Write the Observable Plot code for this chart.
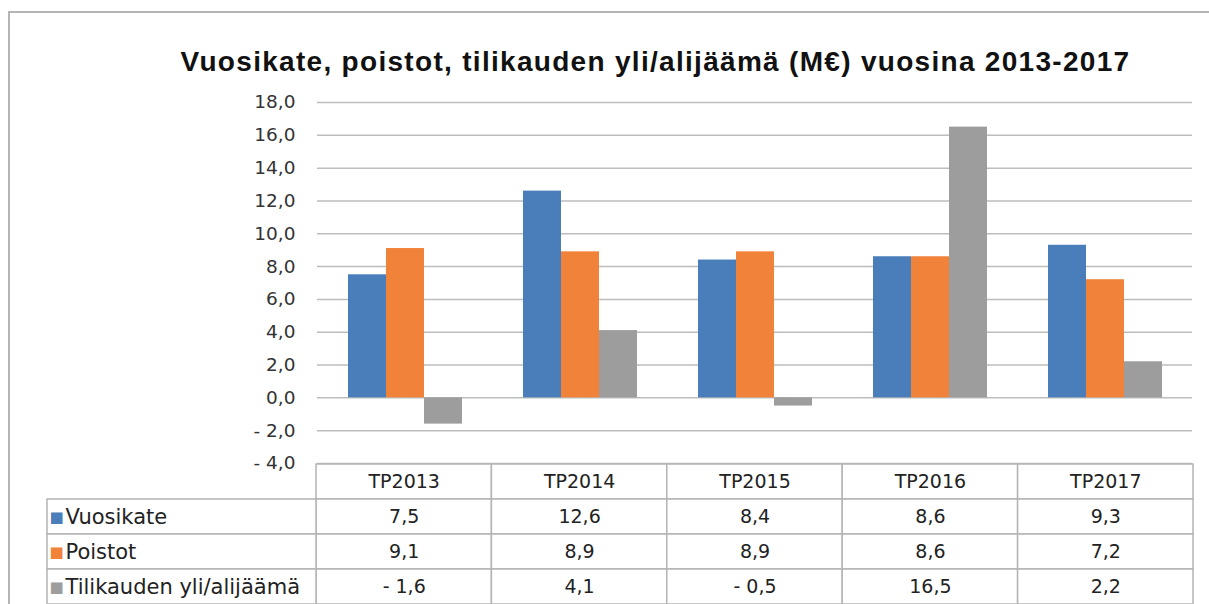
<!DOCTYPE html>
<html>
<head>
<meta charset="utf-8">
<script src="https://cdn.jsdelivr.net/npm/d3@7"></script>
<script src="https://cdn.jsdelivr.net/npm/@observablehq/plot@0.6"></script>
<style>
  html, body { margin: 0; padding: 0; background: #fff; }
  #wrap { position: relative; width: 1209px; height: 604px; overflow: hidden; background: #fff; }
  #border { position: absolute; left: 8px; top: 11px; width: 1300px; height: 700px; border: 2px solid #b4b4b4; box-sizing: border-box; }
  #title { position: absolute; left: 0; top: 46px; width: 1311px; text-align: center; font-family: "Liberation Sans", Arial, sans-serif; font-weight: bold; font-size: 28px; letter-spacing: 1.3px; color: #111; }
  #chart { position: absolute; left: 0; top: 90px; }
  #table { position: absolute; left: 0; top: 463px; }
  svg { overflow: visible; }
</style>
</head>
<body>
<div id="wrap">
  <div id="border"></div>
  <div id="title">Vuosikate, poistot, tilikauden yli/alijäämä (M€) vuosina 2013-2017</div>
  <div id="chart"></div>
  <div id="table"></div>
</div>
<script>
const categories = ["TP2013", "TP2014", "TP2015", "TP2016", "TP2017"];
const seriesNames = ["Vuosikate", "Poistot", "Tilikauden yli/alijäämä"];
const vuosikate = [7.5, 12.6, 8.4, 8.6, 9.3];
const poistot = [9.1, 8.9, 8.9, 8.6, 7.2];
const tilikauden = [-1.6, 4.1, -0.5, 16.5, 2.2];
const yTicks = [-4, -2, 0, 2, 4, 6, 8, 10, 12, 14, 16, 18];
const colors = ["#4a7ebb", "#f0823a", "#9d9d9d"];

const seriesValues = [vuosikate, poistot, tilikauden];
const data = [];
categories.forEach((c, i) => {
  seriesNames.forEach((s, j) => data.push({category: c, series: s, value: seriesValues[j][i]}));
});

const fmt = v => {
  const s = Math.abs(v).toFixed(1).replace(".", ",");
  return v < 0 ? "- " + s : s;
};

const FONT = "'DejaVu Sans', Verdana, sans-serif";
const W = 1209, ML = 316, MR = 16;

const chart = Plot.plot({
  width: W,
  height: 373,
  marginLeft: ML,
  marginRight: MR,
  marginTop: 12,
  marginBottom: 0,
  style: {fontFamily: FONT, fontSize: "18px", color: "#333", background: "transparent"},
  fx: {domain: categories, padding: 0, axis: null},
  x: {domain: seriesNames, paddingInner: 0, paddingOuter: 0.75, axis: null},
  y: {domain: [-4, 18], ticks: yTicks, tickFormat: fmt, label: null},
  color: {domain: seriesNames, range: colors},
  marks: [
    Plot.ruleY(yTicks, {stroke: "#bdbdbd", strokeWidth: 1.5}),
    Plot.axisY({ticks: yTicks, tickFormat: fmt, tickSize: 0, tickPadding: 22, label: null, fontSize: 18.5, fill: "#333"}),
    Plot.barY(data, {fx: "category", x: "series", y: "value", fill: "series", inset: 0}),
    Plot.ruleX([0], {frameAnchor: "left", stroke: "#bdbdbd", strokeWidth: 1.5})
  ]
});
document.getElementById("chart").appendChild(chart);

// Data table below the chart, sharing the chart's horizontal layout
const rowKeys = ["head", ...seriesNames];
const labelColUnits = (ML - 47) / ((W - ML - MR) / categories.length);
const cells = [];
categories.forEach((c, i) => {
  cells.push({x1: i, x2: i + 1, row: "head", text: c});
  seriesNames.forEach((s, j) => cells.push({x1: i, x2: i + 1, row: s, text: fmt(seriesValues[j][i])}));
});
const labelCells = seriesNames.map((s, j) => ({x1: -labelColUnits, x2: 0, row: s, text: s, color: colors[j]}));

const table = Plot.plot({
  width: W,
  height: 142,
  marginLeft: 47,
  marginRight: MR,
  marginTop: 0,
  marginBottom: 0,
  style: {fontFamily: FONT, fontSize: "19px", color: "#222", background: "transparent"},
  x: {domain: [-labelColUnits, categories.length], axis: null},
  y: {domain: rowKeys, padding: 0, axis: null},
  marks: [
    Plot.rect([...cells, ...labelCells], {x1: "x1", x2: "x2", y: "row", fill: "white", stroke: "#b4b4b4", strokeWidth: 1.5}),
    Plot.text(cells, {x: d => (d.x1 + d.x2) / 2, y: "row", text: "text", fill: "#222", fontSize: 19}),
    Plot.text(labelCells, {x: "x1", y: "row", text: () => "■", fill: "color", textAnchor: "start", dx: 2, fontSize: 15}),
    Plot.text(labelCells, {x: "x1", y: "row", text: "text", fill: "#222", textAnchor: "start", dx: 18, fontSize: 21})
  ]
});
document.getElementById("table").appendChild(table);
</script>
</body>
</html>
